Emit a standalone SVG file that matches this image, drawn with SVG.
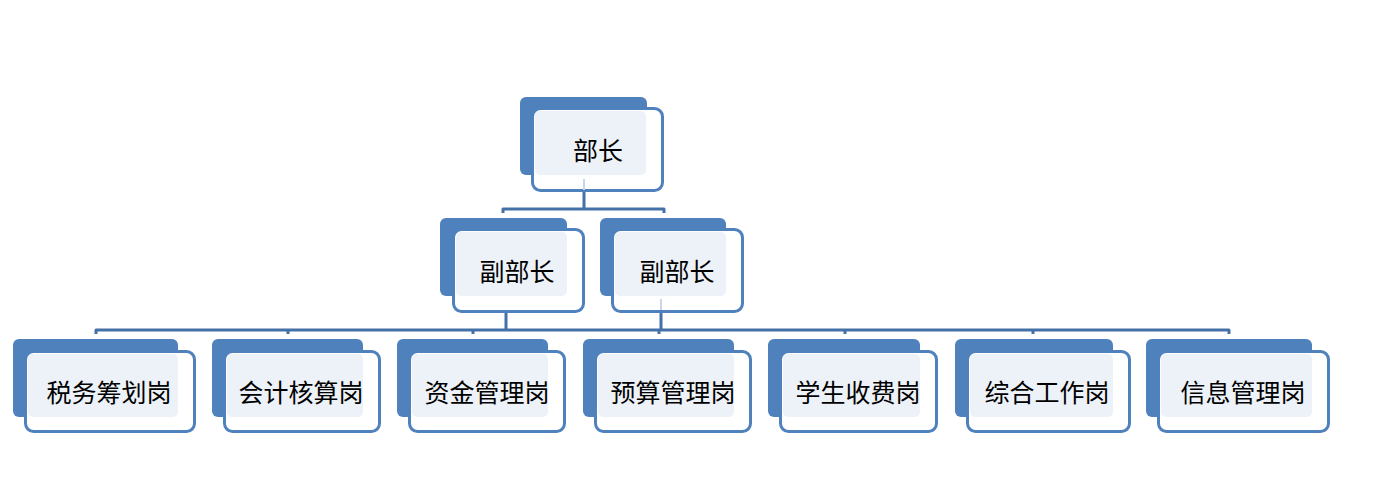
<svg xmlns="http://www.w3.org/2000/svg" width="1379" height="477" viewBox="0 0 1379 477">
<style>
.back{fill:#4F81BD;}
.front{fill:#FFFFFF;stroke:#4F81BD;stroke-width:3;}
.light{fill:#EDF2F9;}
.lbl{font-family:"Noto Sans CJK SC","Noto Sans CJK JP",sans-serif;font-size:25px;fill:#000;text-anchor:middle;}
.con{fill:none;stroke:#4470A8;stroke-width:3;stroke-linejoin:round;}
.faint{stroke:#C9D6EA;stroke-width:2;}
</style>
<rect width="1379" height="477" fill="#FFFFFF"/>
<g id="connectors">
<path class="con" d="M584 192 V209 M503 213 V209 H664 V213"/>
<path class="con" d="M506 313 V330 M661 313 V330 M96 334 V330 H1229 V334 M288 330 V334 M473 330 V334 M659 330 V334 M845 330 V334 M1033 330 V334"/>
</g>
<g id="n-buzhang">
<rect class="back" x="520" y="97" width="127" height="78" rx="6"/>
<rect class="front" x="532.5" y="108.5" width="130" height="82" rx="8"/>
<rect class="light" x="535" y="111" width="111" height="64" rx="5"/>
<line class="faint" x1="584" y1="179" x2="584" y2="190"/>
<text class="lbl" x="598" y="160">部长</text>
</g>
<g id="n-fubuzhang1">
<rect class="back" x="440" y="218" width="127" height="78" rx="6"/>
<rect class="front" x="453.5" y="229.5" width="130" height="82" rx="8"/>
<rect class="light" x="456" y="232" width="111" height="64" rx="5"/>
<text class="lbl" x="517" y="281">副部长</text>
</g>
<g id="n-fubuzhang2">
<rect class="back" x="600" y="218" width="126" height="78" rx="6"/>
<rect class="front" x="612.5" y="229.5" width="130" height="82" rx="8"/>
<rect class="light" x="615" y="232" width="111" height="64" rx="5"/>
<line class="faint" x1="661" y1="299" x2="661" y2="310"/>
<text class="lbl" x="677" y="281">副部长</text>
</g>
<g id="n-shuiwu">
<rect class="back" x="13" y="339" width="165" height="78" rx="6"/>
<rect class="front" x="25.5" y="351.5" width="169" height="80" rx="8"/>
<rect class="light" x="28" y="354" width="150" height="63" rx="5"/>
<text class="lbl" x="109" y="402">税务筹划岗</text>
</g>
<g id="n-kuaiji">
<rect class="back" x="212" y="339" width="151" height="78" rx="6"/>
<rect class="front" x="224.5" y="351.5" width="155" height="80" rx="8"/>
<rect class="light" x="227" y="354" width="136" height="63" rx="5"/>
<text class="lbl" x="301" y="402">会计核算岗</text>
</g>
<g id="n-zijin">
<rect class="back" x="397" y="339" width="151" height="78" rx="6"/>
<rect class="front" x="409.5" y="351.5" width="155" height="80" rx="8"/>
<rect class="light" x="412" y="354" width="136" height="63" rx="5"/>
<text class="lbl" x="487" y="402">资金管理岗</text>
</g>
<g id="n-yusuan">
<rect class="back" x="583" y="339" width="151" height="78" rx="6"/>
<rect class="front" x="595.5" y="351.5" width="155" height="80" rx="8"/>
<rect class="light" x="598" y="354" width="136" height="63" rx="5"/>
<text class="lbl" x="673" y="402">预算管理岗</text>
</g>
<g id="n-xuesheng">
<rect class="back" x="768" y="339" width="152" height="78" rx="6"/>
<rect class="front" x="780.5" y="351.5" width="156" height="80" rx="8"/>
<rect class="light" x="783" y="354" width="137" height="63" rx="5"/>
<text class="lbl" x="858" y="402">学生收费岗</text>
</g>
<g id="n-zonghe">
<rect class="back" x="955" y="339" width="158" height="78" rx="6"/>
<rect class="front" x="967.5" y="351.5" width="162" height="80" rx="8"/>
<rect class="light" x="970" y="354" width="143" height="63" rx="5"/>
<text class="lbl" x="1047" y="402">综合工作岗</text>
</g>
<g id="n-xinxi">
<rect class="back" x="1146" y="339" width="166" height="78" rx="6"/>
<rect class="front" x="1158.5" y="351.5" width="170" height="80" rx="8"/>
<rect class="light" x="1161" y="354" width="151" height="63" rx="5"/>
<text class="lbl" x="1243" y="402">信息管理岗</text>
</g>
</svg>
